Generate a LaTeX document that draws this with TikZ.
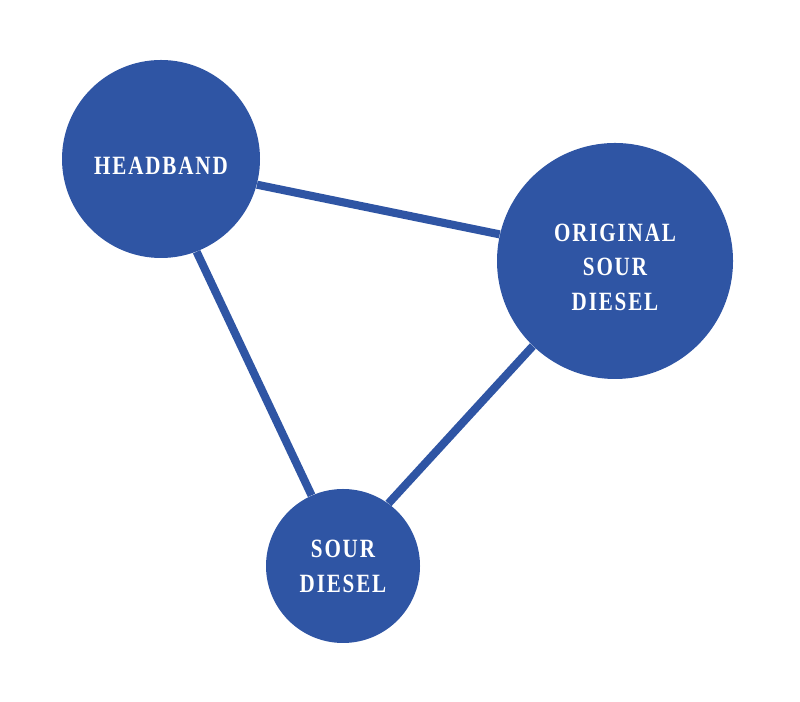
\documentclass[tikz,border=0pt]{standalone}
\usepackage{fontspec}
\newfontfamily\strainfont[FakeStretch=0.8,LetterSpace=7]{Liberation Serif}
\usetikzlibrary{backgrounds}
\definecolor{strainblue}{HTML}{2F55A4}
\begin{document}
\begin{tikzpicture}[
        strain/.style={circle, fill=strainblue, text=white, inner sep=0pt, align=center,
          font=\strainfont\bfseries\fontsize{15}{19.9}\selectfont},
        link/.style={strainblue, line width=4.6pt}]
        % Cadre
        \useasboundingbox (0,0) rectangle (16,14.04);

        % Cercles des variétés
        \node[strain, minimum size=3.96cm, text height=18pt] (headband) at (3.22,10.86) {HEADBAND};
        \node[strain, minimum size=4.72cm, text height=57pt] (original) at (12.30,8.82) {ORIGINAL\\SOUR\\DIESEL};
        \node[strain, minimum size=3.08cm] (sour) at (6.86,2.72) {SOUR\\DIESEL};

        % Liens
        \begin{scope}[on background layer]
        \draw[link] (headband.-15) -- (original.167);
        \draw[link] (headband.-69) -- (sour.114);
        \draw[link] (sour.54) -- (original.-134);
        \end{scope}
      \end{tikzpicture}
\end{document}
